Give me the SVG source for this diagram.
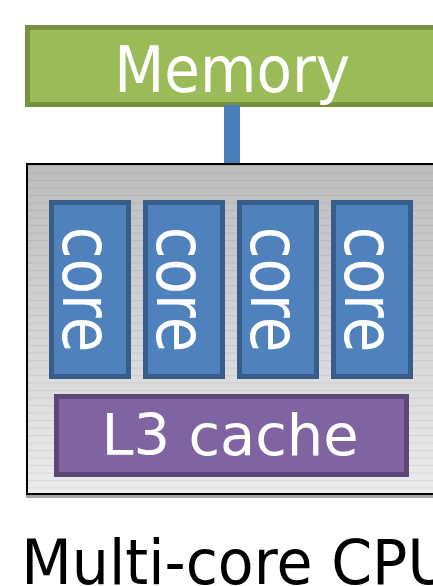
<svg xmlns="http://www.w3.org/2000/svg" width="433" height="586" viewBox="0 0 433 586">
<defs>
<linearGradient id="cpuGrad" x1="0" y1="0" x2="0" y2="1">
<stop offset="0" stop-color="#bdbdbd"/>
<stop offset="1" stop-color="#ececec"/>
</linearGradient>
<pattern id="lines" width="10" height="7.5" patternUnits="userSpaceOnUse" y="165">
<rect x="0" y="0" width="10" height="1" fill="#000" fill-opacity="0.07"/>
</pattern>
</defs>
<style>
.lbl{font-family:"DejaVu Sans","Liberation Sans",sans-serif;fill:#fff}
.core rect{fill:#4F81BD;stroke:#385D8A;stroke-width:5}
.core text{font-size:58px}
</style>
<rect width="433" height="586" fill="#fff"/>
<g id="memory">
<rect x="27.5" y="27.5" width="420" height="77" fill="#9BBB59" stroke="#76923C" stroke-width="5"/>
<text class="lbl" font-size="58" transform="translate(114.3,92) scale(1,1.11)">Memory</text>
</g>
<g id="connectors">
<rect x="224" y="105" width="16" height="59" fill="#4A7EBB"/>
</g>
<g id="cpu">
<rect x="26" y="168" width="420" height="330" fill="#a6a6a6"/>
<rect x="27" y="164" width="420" height="330" fill="url(#cpuGrad)"/>
<rect x="27" y="164" width="420" height="330" fill="url(#lines)"/>
<rect x="27" y="164" width="420" height="330" fill="none" stroke="#000" stroke-width="2"/>
</g>
<g id="core1" class="core">
<rect x="51.5" y="202.5" width="77" height="174"/>
<text class="lbl" text-anchor="middle" transform="translate(63,289.5) rotate(90) scale(1,1.2)">core</text>
</g>
<g id="core2" class="core">
<rect x="145.5" y="202.5" width="77" height="174"/>
<text class="lbl" text-anchor="middle" transform="translate(157,289.5) rotate(90) scale(1,1.2)">core</text>
</g>
<g id="core3" class="core">
<rect x="239.5" y="202.5" width="77" height="174"/>
<text class="lbl" text-anchor="middle" transform="translate(251,289.5) rotate(90) scale(1,1.2)">core</text>
</g>
<g id="core4" class="core">
<rect x="333.5" y="202.5" width="77" height="174"/>
<text class="lbl" text-anchor="middle" transform="translate(345,289.5) rotate(90) scale(1,1.2)">core</text>
</g>
<g id="l3cache">
<rect x="56.5" y="396.5" width="350" height="78" fill="#8064A2" stroke="#5C4776" stroke-width="5"/>
<text class="lbl" x="101.5" y="455" font-size="57.5">L3 cache</text>
</g>
<g id="label">
<text font-size="58.6" font-family="DejaVu Sans, Liberation Sans, sans-serif" fill="#000" transform="translate(21.3,584) scale(1,1.075)">Multi-core CPU</text>
</g>
</svg>
